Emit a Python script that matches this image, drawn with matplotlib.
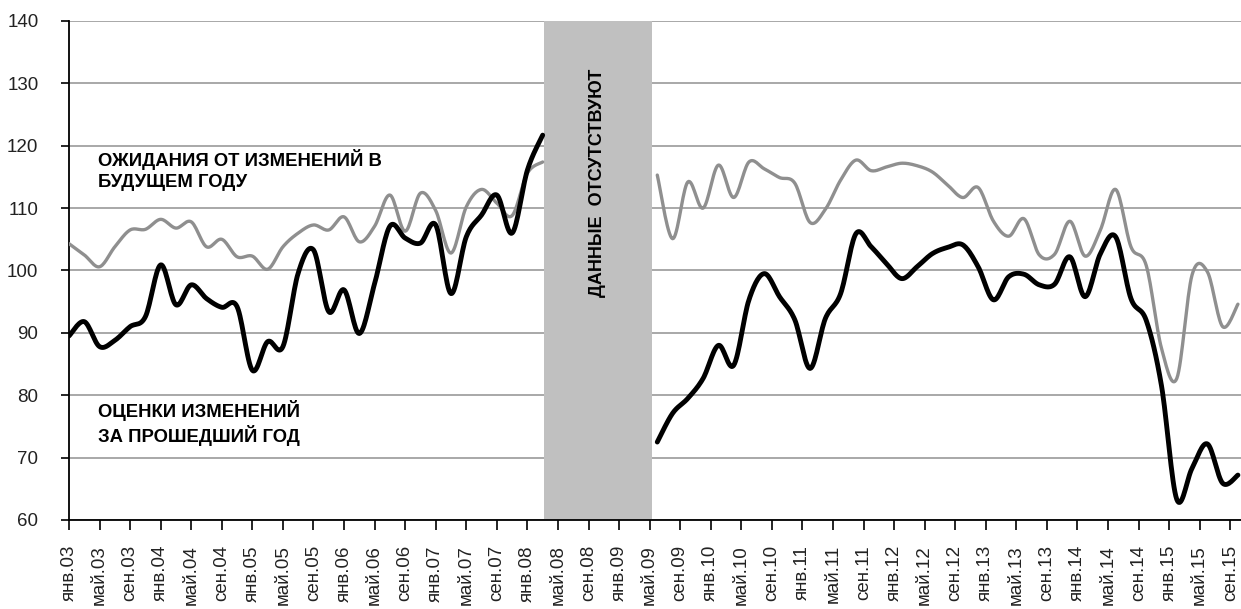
import numpy as np
import matplotlib
matplotlib.use("Agg")
import matplotlib.pyplot as plt

plt.rcParams['font.family'] = ['Liberation Sans', 'DejaVu Sans']

# ---------------- data ----------------
month_names = ['янв', 'май', 'сен']
years = ['03', '04', '05', '06', '07', '08', '09', '10', '11', '12', '13', '14', '15']
tick_labels = [f'{m}.{y}' for y in years for m in month_names]
tick_months = list(range(0, 153, 4))          # months since Jan 2003

# survey months (months since Jan 2003), before and after the data gap
months_before = list(range(0, 63, 2))
months_after = list(range(77, 154, 2))

# "Expectations of changes in the coming year" (grey line)
expect_before = [104.3, 102.5, 100.6, 103.8, 106.5, 106.6, 108.2, 106.8, 107.8, 103.8,
                 105.0, 102.2, 102.3, 100.2, 103.8, 106.0, 107.3, 106.5, 108.6, 104.6,
                 107.1, 112.1, 106.3, 112.4, 109.6, 102.8, 110.2, 113.0, 110.8, 108.8,
                 115.6, 117.4]
expect_after = [115.3, 105.1, 114.2, 110.0, 116.9, 111.7, 117.4, 116.3, 114.9, 114.0,
                107.7, 109.8, 114.5, 117.7, 116.0, 116.6, 117.2, 116.8, 115.8, 113.7,
                111.7, 113.3, 107.9, 105.5, 108.3, 102.5, 102.6, 107.9, 102.3, 106.5,
                113.0, 103.8, 100.8, 87.5, 82.7, 99.3, 99.8, 91.0, 94.6]

# "Assessment of changes over the past year" (black line)
assess_before = [89.5, 91.8, 87.8, 88.8, 91.0, 92.6, 100.9, 94.5, 97.7, 95.5,
                 94.1, 94.2, 84.0, 88.6, 87.8, 99.6, 103.3, 93.4, 96.9, 89.9,
                 97.9, 107.1, 105.2, 104.4, 107.3, 96.3, 105.4, 108.9, 112.1, 106.0,
                 116.1, 121.7]
assess_after = [72.5, 77.1, 79.5, 82.7, 88.0, 84.8, 95.3, 99.5, 95.8, 92.1,
                84.3, 92.3, 96.3, 105.9, 103.8, 101.1, 98.7, 100.6, 102.7, 103.7,
                104.1, 100.6, 95.3, 99.0, 99.4, 97.7, 97.8, 102.2, 95.8, 102.7,
                105.4, 95.5, 92.0, 81.5, 63.3, 68.3, 72.2, 65.9, 67.2]

gap_label = 'ДАННЫЕ  ОТСУТСТВУЮТ'
expect_label = 'ОЖИДАНИЯ ОТ ИЗМЕНЕНИЙ В\nБУДУЩЕМ ГОДУ'
assess_label = 'ОЦЕНКИ ИЗМЕНЕНИЙ\nЗА ПРОШЕДШИЙ ГОД'


def smooth(xs, ys, n=16):
    """Catmull-Rom smoothing (like Excel's 'smoothed line')."""
    x = np.asarray(xs, float)
    y = np.asarray(ys, float)
    px = np.concatenate([[x[0]], x, [x[-1]]])
    py = np.concatenate([[y[0]], y, [y[-1]]])
    t = np.linspace(0, 1, n, endpoint=False)
    h00 = 2 * t**3 - 3 * t**2 + 1
    h10 = t**3 - 2 * t**2 + t
    h01 = -2 * t**3 + 3 * t**2
    h11 = t**3 - t**2
    ox, oy = [], []
    for i in range(len(x) - 1):
        p0x, p1x, p2x, p3x = px[i:i + 4]
        p0y, p1y, p2y, p3y = py[i:i + 4]
        m1x, m2x = (p2x - p0x) / 2, (p3x - p1x) / 2
        m1y, m2y = (p2y - p0y) / 2, (p3y - p1y) / 2
        ox.append(h00 * p1x + h10 * m1x + h01 * p2x + h11 * m2x)
        oy.append(h00 * p1y + h10 * m1y + h01 * p2y + h11 * m2y)
    ox.append([x[-1]])
    oy.append([y[-1]])
    return np.concatenate(ox), np.concatenate(oy)


# ---------------- figure ----------------
W, H = 1241, 609
fig = plt.figure(figsize=(W / 100, H / 100), dpi=100)
ax = fig.add_axes([69 / W, 1 - 520 / H, 1 - 69 / W, (520 - 21) / H])

grey = '#8f8f8f'
for mx, vals in ((months_before, expect_before), (months_after, expect_after)):
    sx, sy = smooth(mx, vals)
    ax.plot(sx, sy, color=grey, lw=2.4, zorder=3, solid_capstyle='round')
for mx, vals in ((months_before, assess_before), (months_after, assess_after)):
    sx, sy = smooth(mx, vals)
    ax.plot(sx, sy, color='black', lw=3.5, zorder=4, solid_capstyle='round')

ax.axvspan(62.2, 76.3, color='#c0c0c0', zorder=2, lw=0)
ax.text(69.2, 114.0, gap_label, rotation=90, ha='center', va='center',
        fontsize=13, fontweight='bold', zorder=6)

ax.text(3.8, 119.4, expect_label, ha='left', va='top', fontsize=13.3,
        fontweight='bold', linespacing=1.3, zorder=6)
ax.text(3.8, 79.3, assess_label, ha='left', va='top', fontsize=13.3,
        fontweight='bold', linespacing=1.25, zorder=6)

ax.set_xlim(0, (W - 69) / 7.64)
ax.set_ylim(60, 140)
ax.set_yticks(range(60, 141, 10))
ax.set_xticks(tick_months)
ax.set_xticklabels(tick_labels, rotation=90, va='top', ha='center')

ax.set_axisbelow(True)
ax.yaxis.grid(True, color='#9a9a9a', lw=1.2, zorder=0)
ax.xaxis.grid(False)

for s in ('top', 'right'):
    ax.spines[s].set_visible(False)
ax.spines['left'].set_color('black')
ax.spines['left'].set_linewidth(1.3)
ax.spines['bottom'].set_color('black')
ax.spines['bottom'].set_linewidth(1.3)

ax.tick_params(axis='x', direction='out', length=7, width=1.2, pad=11,
               labelsize=13.5, colors='black')
ax.tick_params(axis='y', direction='out', length=6, width=1.2, pad=16,
               labelsize=13.5, colors='black')
for lbl in ax.get_yticklabels():
    lbl.set_color('#222222')
for lbl in ax.get_xticklabels():
    lbl.set_color('#222222')

fig.savefig('out.png', dpi=100)
